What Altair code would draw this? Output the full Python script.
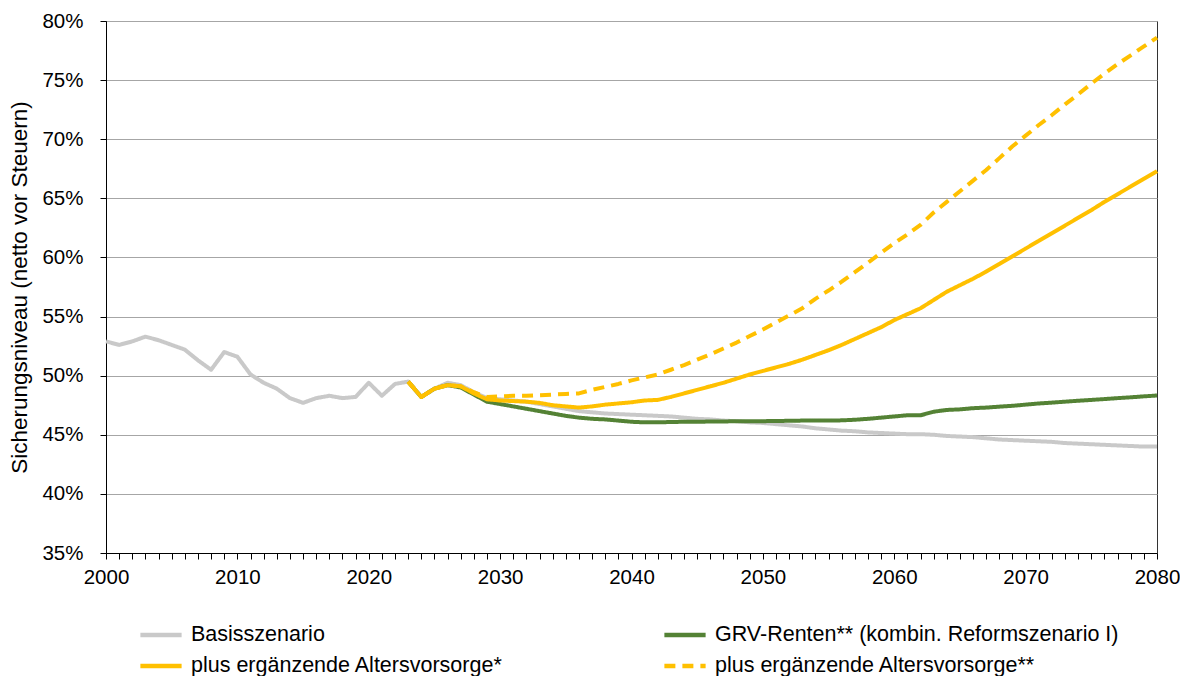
import altair as alt
import pandas as pd

# ---------------- data ----------------
years_all = list(range(2000, 2081))
years_proj = list(range(2023, 2081))

basis = [
    52.9, 52.6, 52.9, 53.3, 53.0, 52.6, 52.2, 51.3, 50.5, 52.0,
    51.6, 50.1, 49.4, 48.9, 48.1, 47.7, 48.1, 48.3, 48.1, 48.2,
    49.4, 48.3, 49.3, 49.5, 48.2, 48.9, 49.4, 49.2, 48.6, 48.1,
    48.0, 47.9, 47.8, 47.6, 47.4, 47.2, 47.0, 46.9, 46.8, 46.75,
    46.7, 46.65, 46.6, 46.55, 46.45, 46.35, 46.3, 46.2, 46.15, 46.05,
    46.0, 45.9, 45.8, 45.7, 45.55, 45.45, 45.35, 45.3, 45.2, 45.15,
    45.1, 45.05, 45.05, 45.0, 44.9, 44.85, 44.8, 44.7, 44.6, 44.55,
    44.5, 44.45, 44.4, 44.3, 44.25, 44.2, 44.15, 44.1, 44.05, 44.0,
    44.0,
]

grv = [
    49.5, 48.2, 48.9, 49.2, 49.0, 48.4, 47.8,
    47.6, 47.4, 47.2, 47.0, 46.8, 46.6, 46.45, 46.35, 46.3, 46.2,
    46.1, 46.05, 46.05, 46.08, 46.1, 46.1, 46.12, 46.13, 46.14, 46.15,
    46.15, 46.17, 46.18, 46.2, 46.2, 46.2, 46.22, 46.27, 46.35, 46.45,
    46.55, 46.65, 46.65, 46.95, 47.1, 47.15, 47.25, 47.3, 47.38, 47.45,
    47.55, 47.65, 47.72, 47.8, 47.88, 47.95, 48.02, 48.1, 48.17, 48.25,
    48.32,
]

plus1 = [
    49.5, 48.2, 48.9, 49.2, 49.1, 48.5, 48.0,
    47.9, 47.85, 47.8, 47.7, 47.5, 47.4, 47.3, 47.4, 47.55, 47.65,
    47.75, 47.9, 47.95, 48.2, 48.5, 48.8, 49.1, 49.4, 49.75, 50.1,
    50.4, 50.7, 51.0, 51.35, 51.75, 52.15, 52.6, 53.1, 53.6, 54.1,
    54.7, 55.2, 55.7, 56.4, 57.1, 57.65, 58.2, 58.8, 59.45, 60.1,
    60.75, 61.4, 62.05, 62.7, 63.35, 64.0, 64.7, 65.35, 66.0, 66.65,
    67.3,
]

plus2 = [
    49.5, 48.2, 48.9, 49.2, 49.1, 48.6, 48.2,
    48.25, 48.3, 48.3, 48.35, 48.4, 48.45, 48.5, 48.8, 49.05, 49.3,
    49.6, 49.85, 50.1, 50.5, 50.9, 51.35, 51.8, 52.3, 52.8, 53.35,
    53.9, 54.5, 55.1, 55.7, 56.5, 57.2, 57.95, 58.75, 59.55, 60.4,
    61.2, 61.95, 62.75, 63.8, 64.7, 65.6, 66.5, 67.4, 68.4, 69.4,
    70.3, 71.2, 72.05, 72.95, 73.8, 74.7, 75.55, 76.35, 77.1, 77.85,
    78.6,
]

name_basis = "Basisszenario"
name_grv = "GRV-Renten** (kombin. Reformszenario I)"
name_plus1 = "plus ergänzende Altersvorsorge*"
name_plus2 = "plus ergänzende Altersvorsorge**"

# drawing order (bottom to top)
draw_order = [name_basis, name_grv, name_plus1, name_plus2]
# legend order (legend grid fills column by column)
legend_order = [name_basis, name_plus1, name_grv, name_plus2]
legend_colors = ["#C9C9C9", "#FFC000", "#548235", "#FFC000"]
legend_dash = [[1, 0], [1, 0], [1, 0], [11, 7]]

y_ticks = list(range(35, 81, 5))

# ---------------- table ----------------
rows = []
for y, v in zip(years_all, basis):
    rows.append({"Jahr": y, "Wert": v, "Serie": name_basis})
for y, v in zip(years_proj, grv):
    rows.append({"Jahr": y, "Wert": v, "Serie": name_grv})
for y, v in zip(years_proj, plus1):
    rows.append({"Jahr": y, "Wert": v, "Serie": name_plus1})
for y, v in zip(years_proj, plus2):
    rows.append({"Jahr": y, "Wert": v, "Serie": name_plus2})
df = pd.DataFrame(rows)

FONT = "Liberation Sans"

x_enc = alt.X(
    "Jahr:Q",
    scale=alt.Scale(domain=[2000, 2080], nice=False, zero=False),
    axis=alt.Axis(
        title=None,
        values=years_all,
        labelExpr="datum.value % 10 === 0 ? '' + datum.value : ''",
        labelOverlap=False,
        labelFlush=False,
        grid=False,
        tickSize=6,
        tickColor="#000000",
        domainColor="#000000",
        labelFontSize=20.5,
        labelPadding=8,
        labelColor="#000000",
        labelFont=FONT,
    ),
)
y_enc = alt.Y(
    "Wert:Q",
    scale=alt.Scale(domain=[35, 80], nice=False, zero=False),
    axis=alt.Axis(
        title="Sicherungsniveau (netto vor Steuern)",
        values=y_ticks,
        labelExpr="datum.value + '%'",
        grid=True,
        gridColor="#A6A6A6",
        gridWidth=1,
        tickSize=6,
        tickColor="#000000",
        domainColor="#000000",
        labelFontSize=20.5,
        labelPadding=17,
        labelColor="#000000",
        labelFont=FONT,
        titleFont=FONT,
        titleFontSize=22.5,
        titleFontWeight="normal",
        titleColor="#000000",
        titlePadding=10,
    ),
)

legend_spec = alt.Legend(
    title=None,
    orient="none",
    legendX=32,
    legendY=603,
    columns=2,
    columnPadding=159,
    rowPadding=9,
    clipHeight=22,
    symbolType="stroke",
    symbolSize=1700,
    symbolStrokeWidth=4.5,
    labelFontSize=21.5,
    labelFont=FONT,
    labelColor="#000000",
    labelOffset=7,
    labelLimit=600,
    padding=0,
)
color_enc = alt.Color(
    "Serie:N",
    scale=alt.Scale(domain=legend_order, range=legend_colors),
    legend=legend_spec,
)
dash_enc = alt.StrokeDash(
    "Serie:N",
    scale=alt.Scale(domain=legend_order, range=legend_dash),
    legend=legend_spec,
)

layers = []
for name in draw_order:
    layers.append(
        alt.Chart(df)
        .transform_filter(alt.datum.Serie == name)
        .mark_line(strokeWidth=4, strokeCap="butt", strokeJoin="round")
        .encode(x=x_enc, y=y_enc, color=color_enc, strokeDash=dash_enc)
    )

chart = (
    alt.layer(*layers)
    .properties(
        width=1051,
        height=532,
        autosize=alt.AutoSizeParams(type="none"),
        padding={"left": 98, "top": 13, "right": 23, "bottom": 123},
        background="#FFFFFF",
    )
    .configure_view(stroke="#333333", strokeWidth=1)
)

chart.save("out.html", embed_options={"renderer": "svg", "actions": False})
